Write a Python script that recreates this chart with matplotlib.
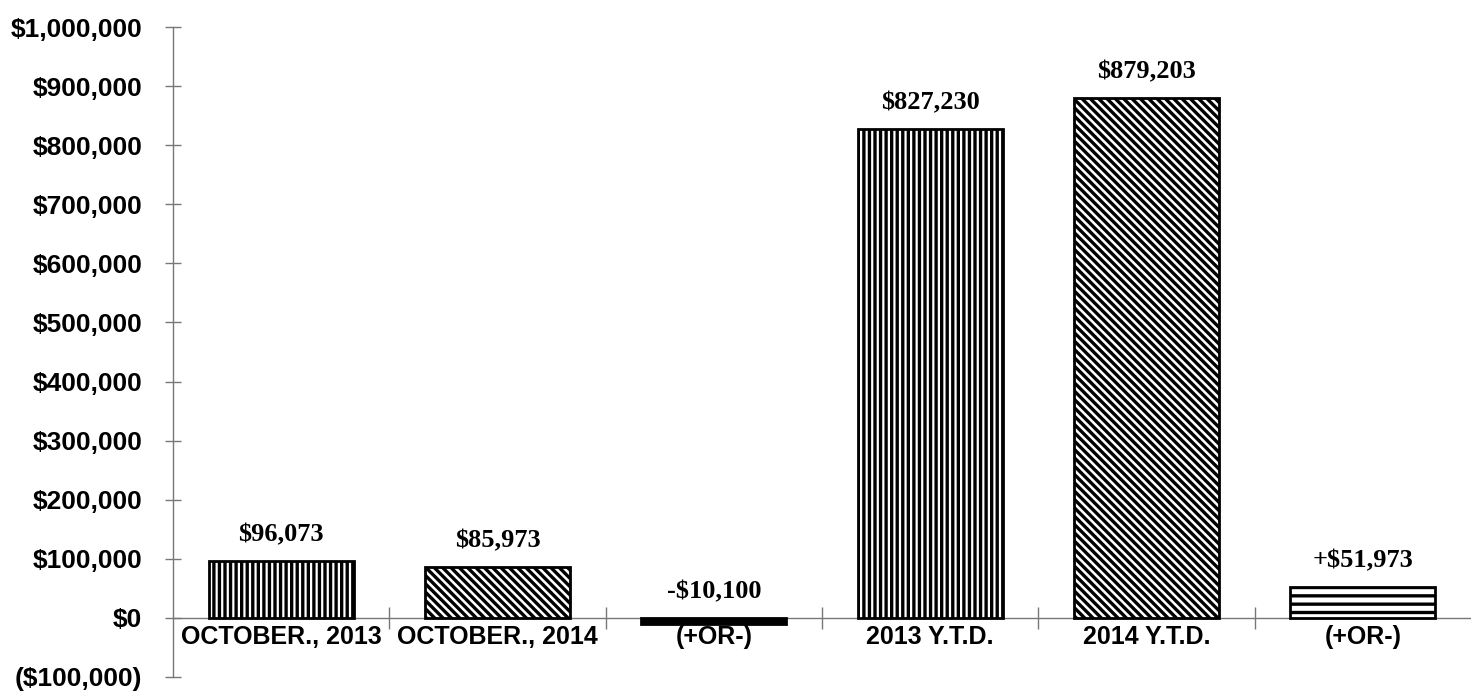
import matplotlib
matplotlib.use("Agg")
import matplotlib.pyplot as plt
from matplotlib.ticker import FuncFormatter, FixedLocator

categories = ["OCTOBER., 2013", "OCTOBER., 2014", "(+OR-)", "2013 Y.T.D.", "2014 Y.T.D.", "(+OR-)"]
values = [96073, 85973, -10100, 827230, 879203, 51973]
value_labels = ["$96,073", "$85,973", "-$10,100", "$827,230", "$879,203", "+$51,973"]
hatches = ["|||", "\\\\\\\\", "", "|||", "\\\\\\\\", "--"]
facecolors = ["white", "white", "black", "white", "white", "white"]

plt.rcParams["hatch.linewidth"] = 2.4
plt.rcParams["font.family"] = ["Liberation Sans", "DejaVu Sans"]
plt.rcParams["font.weight"] = "bold"
plt.rcParams["font.size"] = 18

fig = plt.figure(figsize=(14.71, 6.93), dpi=100)
ax = fig.add_axes([0.1176, 0.0231, 0.8824, 0.9379])

x = list(range(len(categories)))
for xi, v, h, fc in zip(x, values, hatches, facecolors):
    ax.bar(xi, v, width=0.67, facecolor=fc, edgecolor="black", hatch=h, linewidth=2.0, zorder=3)

for xi, v, lab in zip(x, values, value_labels):
    ax.text(xi, max(v, 0) + 25000, lab, ha="center", va="bottom",
            fontsize=19, fontweight="bold", family="Liberation Serif", color="black")

ax.set_ylim(-100000, 1000000)
ax.set_xlim(-0.5, 5.5)

def fmt(v, pos):
    if v < 0:
        return "(${:,.0f})".format(-v)
    return "${:,.0f}".format(v)

ax.yaxis.set_major_locator(FixedLocator(list(range(-100000, 1000001, 100000))))
ax.yaxis.set_major_formatter(FuncFormatter(fmt))
ax.tick_params(axis="y", which="major", direction="inout", length=12, width=1, color="#777777",
               pad=16, labelsize=19)

ax.set_xticks(x)
ax.set_xticklabels(categories, fontsize=18.5, fontweight="bold")
ax.tick_params(axis="x", which="major", length=0, pad=5)
ax.set_xticks([0.5, 1.5, 2.5, 3.5, 4.5], minor=True)
ax.tick_params(axis="x", which="minor", direction="inout", length=16, width=1, color="#777777")

ax.spines["top"].set_visible(False)
ax.spines["right"].set_visible(False)
ax.spines["bottom"].set_position(("data", 0))
ax.spines["bottom"].set_color("#777777")
ax.spines["bottom"].set_linewidth(1)
ax.spines["left"].set_color("#777777")
ax.spines["left"].set_linewidth(1)
ax.spines["bottom"].set_zorder(1)

fig.savefig("out.png", dpi=100)
